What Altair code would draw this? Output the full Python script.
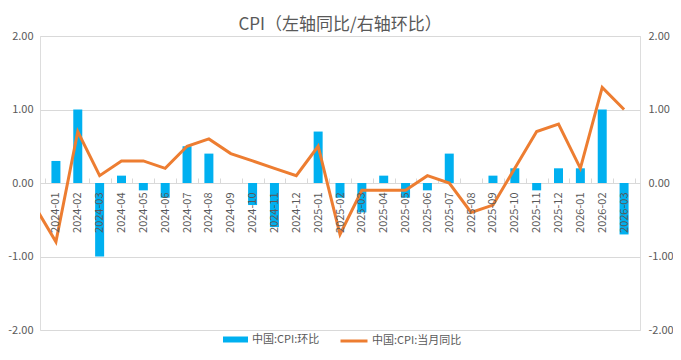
import json
import altair as alt
import pandas as pd

# ---------------- data ----------------
months = ["2024-01", "2024-02", "2024-03", "2024-04", "2024-05", "2024-06",
          "2024-07", "2024-08", "2024-09", "2024-10", "2024-11", "2024-12",
          "2025-01", "2025-02", "2025-03", "2025-04", "2025-05", "2025-06",
          "2025-07", "2025-08", "2025-09", "2025-10", "2025-11", "2025-12",
          "2026-01", "2026-02", "2026-03"]
mom = [0.3, 1.0, -1.0, 0.1, -0.1, -0.2, 0.5, 0.4, 0.0, -0.3, -0.6, 0.0,
       0.7, -0.2, -0.4, 0.1, -0.2, -0.1, 0.4, 0.0, 0.1, 0.2, -0.1, 0.2,
       0.2, 1.0, -0.7]
yoy = [-0.8, 0.7, 0.1, 0.3, 0.3, 0.2, 0.5, 0.6, 0.4, 0.3, 0.2, 0.1,
       0.5, -0.7, -0.1, -0.1, -0.1, 0.1, 0.0, -0.4, -0.3, 0.2, 0.7, 0.8,
       0.2, 1.3, 1.0]
prev_month = "2023-12"
prev_yoy = -0.3

title_text = "CPI（左轴同比/右轴环比）"
mom_name = "中国:CPI:环比"
yoy_name = "中国:CPI:当月同比"
y_ticks = [-2, -1, 0, 1, 2]

bar_df = pd.DataFrame({"idx": list(range(len(months))), "month": months,
                       "value": mom, "series": mom_name})
line_df = pd.DataFrame({"idx": list(range(-1, len(months))),
                        "month": [prev_month] + months,
                        "value": [prev_yoy] + yoy, "series": yoy_name})

FONT = "Noto Sans CJK SC"
GREY = "#595959"
GRID = "#D9D9D9"
BLUE = "#00B0F0"
ORANGE = "#ED7D31"

label_js = json.dumps(months, ensure_ascii=False)
num_label = "replace(format(datum.value, '.2f'), '\u2212', '-')"

xscale = alt.Scale(domain=[-0.5, len(months) - 0.5], nice=False, zero=False)
yscale = alt.Scale(domain=[-2, 2], nice=False, zero=False)
AXIS_OFFSET = -147

bars = alt.Chart(bar_df).mark_bar(size=9, orient="vertical").encode(
    x=alt.X("idx:Q", scale=xscale,
            axis=alt.Axis(values=list(range(len(months))),
                          labelExpr=f"{label_js}[datum.value]",
                          labelAngle=270, labelFontSize=11, labelColor=GREY,
                          labelFont=FONT, labelPadding=9, ticks=False,
                          domain=False, grid=False, title=None,
                          offset=AXIS_OFFSET, zindex=1, labelOverlap=False,
                          labelFlush=False, labelBound=False)),
    y=alt.Y("value:Q", scale=yscale,
            axis=alt.Axis(orient="right", values=y_ticks, labelExpr=num_label,
                          grid=False, ticks=False, domain=False,
                          labelPadding=8, labelFontSize=11, labelColor=GREY,
                          labelFont=FONT, title=None)),
    color=alt.Color("series:N",
                    scale=alt.Scale(domain=[mom_name], range=[BLUE]),
                    legend=alt.Legend(orient="none", legendX=183, legendY=291,
                                      title=None, padding=0,
                                      symbolType="M-1,-0.24H1V0.24H-1Z",
                                      symbolSize=625, symbolStrokeWidth=0,
                                      labelFontSize=11, labelColor=GREY,
                                      labelFont=FONT, labelOffset=4)),
)

line = alt.Chart(line_df).mark_line(strokeWidth=3, clip=True).encode(
    x=alt.X("idx:Q", scale=xscale,
            axis=alt.Axis(values=[i - 0.5 for i in range(len(months) + 1)],
                          labels=False, ticks=True, tickSize=5,
                          tickColor=GRID, domain=False, grid=False,
                          title=None, offset=AXIS_OFFSET)),
    y=alt.Y("value:Q", scale=yscale,
            axis=alt.Axis(orient="left", values=y_ticks, labelExpr=num_label,
                          grid=True, gridColor=GRID, ticks=False,
                          domain=False, labelPadding=7, labelFontSize=11,
                          labelColor=GREY, labelFont=FONT, title=None)),
    stroke=alt.Stroke("series:N",
                      scale=alt.Scale(domain=[yoy_name], range=[ORANGE]),
                      legend=alt.Legend(orient="none", legendX=299,
                                        legendY=290, title=None, padding=0,
                                        symbolType="stroke", symbolSize=729,
                                        symbolStrokeWidth=3,
                                        labelFontSize=11, labelColor=GREY,
                                        labelFont=FONT, labelOffset=3)),
)

chart = alt.layer(bars, line).resolve_scale(
    y="independent", color="independent", stroke="independent"
).resolve_axis(x="independent").properties(
    width=600, height=294,
    padding={"left": 32, "top": 28, "right": 33, "bottom": 22},
    autosize=alt.AutoSizeParams(type="none"),
    title=alt.Title(title_text, font=FONT, fontSize=17, color=GREY,
                    fontWeight="normal", anchor="middle", offset=-4),
).configure_view(stroke=None).configure(background="white")

chart.save("out.html", embed_options={"renderer": "svg", "actions": False})
